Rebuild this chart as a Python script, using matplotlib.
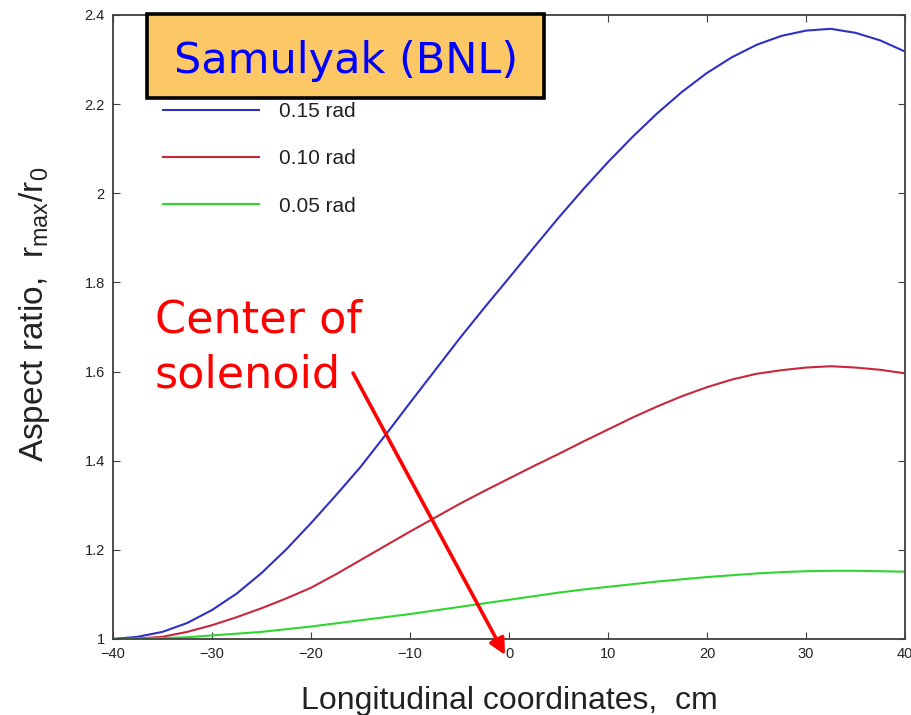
import matplotlib
matplotlib.use("Agg")
import matplotlib.pyplot as plt
from matplotlib.patches import Rectangle, FancyArrowPatch

# Longitudinal position (cm) and aspect ratio r_max/r_0 for three jet angles
z_cm = [-40, -37.5, -35, -32.5, -30, -27.5, -25, -22.5, -20, -17.5, -15, -12.5, -10,
        -7.5, -5, -2.5, 0, 2.5, 5, 7.5, 10, 12.5, 15, 17.5, 20, 22.5, 25, 27.5, 30,
        32.5, 35, 37.5, 40]
ratio_015 = [1.000, 1.005, 1.016, 1.036, 1.065, 1.102, 1.148, 1.201, 1.260, 1.322,
             1.386, 1.457, 1.530, 1.602, 1.674, 1.743, 1.810, 1.878, 1.945, 2.009,
             2.070, 2.127, 2.180, 2.228, 2.270, 2.305, 2.333, 2.353, 2.365, 2.369,
             2.360, 2.343, 2.318]
ratio_010 = [1.000, 1.001, 1.005, 1.016, 1.031, 1.049, 1.069, 1.091, 1.115, 1.145,
             1.177, 1.209, 1.241, 1.272, 1.303, 1.332, 1.360, 1.388, 1.415, 1.443,
             1.470, 1.497, 1.522, 1.545, 1.565, 1.582, 1.595, 1.603, 1.609, 1.612,
             1.609, 1.604, 1.596]
ratio_005 = [1.000, 1.001, 1.002, 1.004, 1.008, 1.012, 1.016, 1.022, 1.028, 1.035,
             1.042, 1.049, 1.056, 1.064, 1.072, 1.080, 1.088, 1.096, 1.104, 1.111,
             1.117, 1.123, 1.129, 1.134, 1.139, 1.143, 1.147, 1.150, 1.152, 1.153,
             1.153, 1.152, 1.151]

series_labels = ["0.15 rad", "0.10 rad", "0.05 rad"]
series_colors = ["#2f2fc4", "#c8283c", "#30d530"]

x_ticks = [-40, -30, -20, -10, 0, 10, 20, 30, 40]
x_ticklabels = ["\u221240", "\u221230", "\u221220", "\u221210", "0", "10", "20", "30", "40"]
y_ticks = [1.0, 1.2, 1.4, 1.6, 1.8, 2.0, 2.2, 2.4]
y_ticklabels = ["1", "1.2", "1.4", "1.6", "1.8", "2", "2.2", "2.4"]

title_text = "Samulyak (BNL)"
note_lines = ["Center of", "solenoid"]

plt.rcParams["font.family"] = ["Liberation Sans", "DejaVu Sans"]
plt.rcParams["mathtext.default"] = "regular"

W, H = 911, 715
fig = plt.figure(figsize=(W / 100, H / 100), dpi=100)
ax = fig.add_axes([113 / W, (H - 639) / H, (905 - 113) / W, (639 - 15) / H])

for y, lab, col in zip([ratio_015, ratio_010, ratio_005], series_labels, series_colors):
    ax.plot(z_cm, y, color=col, lw=1.5, label=lab)

ax.set_xlim(-40, 40)
ax.set_ylim(1.0, 2.4)
ax.set_xticks(x_ticks)
ax.set_xticklabels(x_ticklabels)
ax.set_yticks(y_ticks)
ax.set_yticklabels(y_ticklabels)
ax.tick_params(direction="in", length=5, width=0.8, colors="#404040",
               labelcolor="#222222", labelsize=10.5, top=True, right=True, pad=6)
for sp in ax.spines.values():
    sp.set_color("#404040")
    sp.set_linewidth(1.3)

ax.set_xlabel("Longitudinal coordinates,  cm", fontsize=23, color="#222222")
ax.xaxis.set_label_coords(0.5, -0.075)
ax.set_ylabel(r"Aspect ratio,  r$_{max}$/r$_{0}$", fontsize=24, color="#222222")
ax.yaxis.set_label_coords(-0.077, 0.52)

leg = ax.legend(loc="upper left", bbox_to_anchor=(0.063, 0.860), frameon=False,
                fontsize=15, handlelength=4.6, handletextpad=0.95, labelspacing=1.35,
                borderaxespad=0, borderpad=0)
for t in leg.get_texts():
    t.set_color("#222222")

# Title box overlapping the top of the axes
fig.patches.append(Rectangle((147 / W, (H - 98) / H), 397 / W, 84 / H,
                             transform=fig.transFigure, facecolor="#fcc865",
                             edgecolor="black", linewidth=2.6, zorder=5))
fig.text(346 / W, (H - 73) / H, title_text, color="#0000ff", fontsize=31,
         family="DejaVu Sans", ha="center", va="baseline", zorder=6)

# Annotation pointing at the solenoid center
fig.text(155 / W, (H - 333) / H, note_lines[0], color="#ff0000", fontsize=32,
         family="DejaVu Sans", ha="left", va="baseline")
fig.text(155 / W, (H - 387) / H, note_lines[1], color="#ff0000", fontsize=32,
         family="DejaVu Sans", ha="left", va="baseline")
fig.add_artist(FancyArrowPatch(
    (353 / W, (H - 373) / H), (505 / W, (H - 655) / H), transform=fig.transFigure,
    arrowstyle="-|>", mutation_scale=24, color="#ff0000", lw=2.6,
    shrinkA=0, shrinkB=0))

fig.savefig("out.png", dpi=100)
